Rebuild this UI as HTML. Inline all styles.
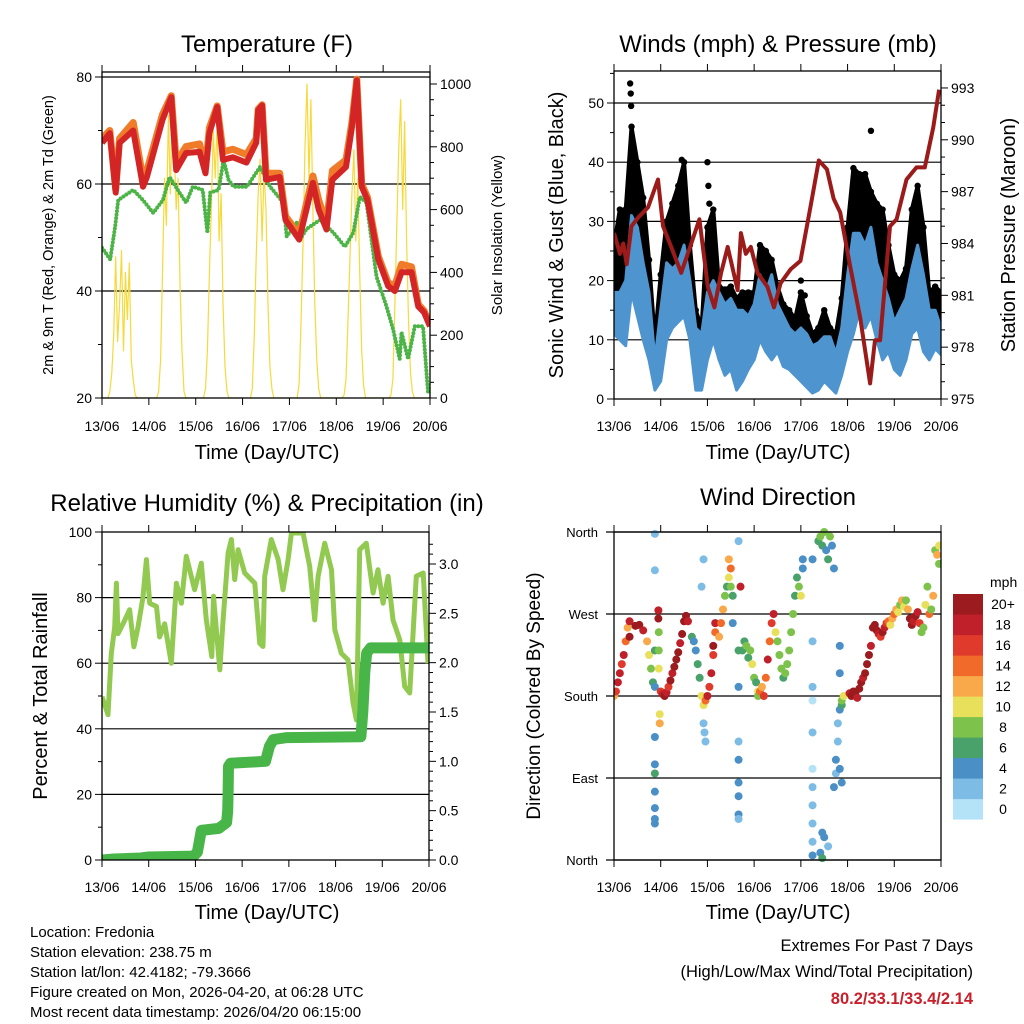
<!DOCTYPE html>
<html><head><meta charset="utf-8"><style>
html,body{margin:0;padding:0;background:#fff;}
svg{display:block;font-family:"Liberation Sans",Arial,sans-serif;}
</style></head><body>
<svg id="fig" width="1024" height="1024" viewBox="0 0 1024 1024">
<defs>
<clipPath id="c1"><rect x="102" y="72" width="328" height="326"/></clipPath>
<clipPath id="c2"><rect x="614" y="71" width="327" height="328"/></clipPath>
<clipPath id="c3"><rect x="102" y="532" width="327" height="328"/></clipPath>
<clipPath id="c4"><rect x="614" y="526" width="327" height="340"/></clipPath>
</defs>
<text x="267" y="52" font-size="24" text-anchor="middle">Temperature (F)</text>
<text x="778" y="52" font-size="24" text-anchor="middle">Winds (mph) &amp; Pressure (mb)</text>
<text x="267" y="511" font-size="24" text-anchor="middle">Relative Humidity (%) &amp; Precipitation (in)</text>
<text x="778" y="505" font-size="24" text-anchor="middle">Wind Direction</text>
<text transform="translate(53,235) rotate(-90)" font-size="14.5" text-anchor="middle">2m &amp; 9m T (Red, Orange) &amp; 2m Td (Green)</text>
<text transform="translate(502,235) rotate(-90)" font-size="15" text-anchor="middle">Solar Insolation (Yellow)</text>
<text transform="translate(563,235) rotate(-90)" font-size="20" text-anchor="middle">Sonic Wind &amp; Gust (Blue, Black)</text>
<text transform="translate(1015,235) rotate(-90)" font-size="20" text-anchor="middle">Station Pressure (Maroon)</text>
<text transform="translate(47,696) rotate(-90)" font-size="20" text-anchor="middle">Percent &amp; Total Rainfall</text>
<text transform="translate(540,696) rotate(-90)" font-size="19" text-anchor="middle">Direction (Colored By Speed)</text>
<text x="267" y="459" font-size="20" text-anchor="middle">Time (Day/UTC)</text>
<text x="778" y="459" font-size="20" text-anchor="middle">Time (Day/UTC)</text>
<text x="267" y="919" font-size="20" text-anchor="middle">Time (Day/UTC)</text>
<text x="778" y="919" font-size="20" text-anchor="middle">Time (Day/UTC)</text>
<g font-size="15">
<text x="30" y="937">Location: Fredonia</text>
<text x="30" y="957">Station elevation: 238.75 m</text>
<text x="30" y="977">Station lat/lon: 42.4182; -79.3666</text>
<text x="30" y="997">Figure created on Mon, 2026-04-20, at 06:28 UTC</text>
<text x="30" y="1017">Most recent data timestamp: 2026/04/20 06:15:00</text>
</g>
<text x="973" y="951" font-size="16.5" text-anchor="end">Extremes For Past 7 Days</text>
<text x="973" y="977" font-size="16.5" text-anchor="end">(High/Low/Max Wind/Total Precipitation)</text>
<text x="973" y="1004" font-size="16.5" font-weight="bold" fill="#c8202a" text-anchor="end">80.2/33.1/33.4/2.14</text>
</svg>
<script>
// ---------- DATA ----------
const dayLabels = ['13/06','14/06','15/06','16/06','17/06','18/06','19/06','20/06'];
const tempHours = [0,4,7,9,16,21,23,31,35.5,38,43,50,53,55,59,62,67,74,79,80,82,84,91,94,101,108,111,115,118,125,128,130.5,133,136,141.5,146.6,150,153.4,158.5,162,165,168];
const temp9m    = [67.7,69.5,58.4,67.7,70,59.5,61.3,72,76.2,62.6,65.8,66,62,69.5,74.4,64.5,65,64,67.7,73.8,74.7,60.8,61.3,53.3,49.6,60.2,55.2,51.5,60.8,63.2,70.6,79.4,59.5,57,45.9,40.9,40,43.5,43.5,37.1,36,33.4];
const temp2m    = [68.5,70,59,68.5,71.5,61,62.5,73,76.5,64,67,67.5,63,70.5,74.6,66,66.5,65.5,68.5,74,74.8,62,62,54,50.5,61.5,57,52.5,62.5,64.5,71.5,79.6,60,57.5,46.5,41.5,41,45,44.5,37.5,36.3,33.6];
const dewHours  = [0,4.2,6.7,8.3,16,21,26.2,31.2,34.6,39.7,43.1,46.5,51.6,54,55.4,59.7,62.3,64.8,67.4,74.2,81,86.1,92.9,94.6,99.7,101.4,104.8,111.7,118.5,124.4,128.7,132.1,135.5,140.6,145.7,149.1,152.5,153.4,156.8,160.2,164.4,167];
const dewVals   = [48.1,45.9,52,57,58.9,57,54.6,57,61.3,58.4,56.5,59.5,58.9,50.9,58.4,58.9,64.5,60.8,59.5,59.5,63.2,59.5,56.5,50.2,52.8,49.6,51.6,53.3,50.9,48.3,50.9,57.6,56.5,42.7,37.1,32.8,27.3,32.3,27.3,33.4,33.4,21.1];
const solarW = [0,0,0,0,20,80,200,450,180,300,470,150,400,250,430,120,60,10,0,0,0,0,0,0,
 0,0,0,0,0,20,120,400,700,550,900,650,950,800,600,700,350,150,20,0,0,0,0,0,
 0,0,0,0,0,30,150,400,600,850,700,890,500,650,300,100,20,0,0,0,0,0,0,0,
 0,0,0,0,0,30,200,450,650,760,500,720,600,300,100,30,0,0,0,0,0,0,0,0,
 0,0,0,0,0,50,250,500,800,1000,700,950,600,300,120,30,0,0,0,0,0,0,0,0,
 0,0,0,0,10,60,250,450,650,790,500,700,400,150,40,0,0,0,0,0,0,0,0,0,
 0,0,0,0,10,60,300,550,800,950,600,880,500,250,80,20,0,0,0,0,0,0,0,0,0];
const tempTicks = [20,40,60,80];
const solarTicks = [0,200,400,600,800,1000];

const presHours = [0,3.1,4.8,6.5,9,12.4,17.5,22.6,25.2,29.4,34.5,39.7,43.9,48.2,51.6,55,58.4,63.5,65.2,67.7,70.3,73.7,78.8,82.2,85.6,90.7,95.8,100.9,105.2,109.4,112.8,116.2,121.3,126.5,131.6,134.1,136.7,141.8,145.2,150.3,155.4,159.7,164,167];
const presVals  = [984.6,983.4,984,982.8,985,985.5,986.1,987.7,985,983.8,982.3,984,985.4,981.5,980.3,982.3,983.8,981.3,984.6,983.4,983.8,982.3,981.5,980.3,981.7,982.5,983,986.1,988.8,988.3,986.6,985.8,982.7,979.7,975.9,978.4,978.4,985,985.4,987.7,988.4,988.4,990.7,992.9];
const windLo = [11,10,9,18,14,10,6.6,1.5,3,10,12,13,14,10,1.5,1.5,6.6,10,6.6,4,5,1.5,3,5,6.6,10,8,6.6,8,5.5,5,4,3,2,1,1.5,3,2,1,4,8,11,15,12,14,10,6.6,8,5,4,6.6,11,12,8,6.6,8.5,7.5];
const windHi = [18,18,20,31,29,23,18,6.6,15,23,22,23,26,20,12,11,18,20,18,16,17,15,15,14,16,21,18,21,16,14,12,11,12,11,9,9.5,10.5,10.5,7.7,12,21,28,28,26,29,23,20,17,13,15,17,22,26,21,15,15,12];
const gustHi = [26,32,32,46,40,34,23.5,10,21,30,33,36,40,26,15,12,29,32,19,18.5,19,17,18,18,18,26,25,23.5,19,16,15,13.5,18,14,11,12,15,12,11,17,29,39,38,38,35,33,32,26,21,20,22,32,36,29,18,19,18];
const gustOutH = [8.3,8.6,8.8,34.8,48,48.5,49,96,98,132];
const gustOutV = [53.3,51.6,49.5,40.4,40,36,33,20,17.5,45.3];
const windTicks = [0,10,20,30,40,50];
const presTicks = [975,978,981,984,987,990,993];

const rhHours = [0,3.1,4.8,6.5,7.4,8.2,11.6,14.2,16.4,18.5,21,22.8,24.5,28,29.6,32.2,35.6,38.2,40.8,43.3,47.6,51,53.6,56.4,57.3,60.5,62.2,64.8,66.5,68.2,69.9,73.3,78.5,81,82.7,83.6,87,90.5,93,95.6,97.3,103.3,106.7,109.3,111,114.4,117.9,119.6,123,126.4,129,130.7,132.4,135.8,139.3,141.8,144.4,147,149.5,153,155.5,158.1,161.5,165,167.5];
const rhVals  = [49.8,44.3,63,71,84.4,69,73,76.3,65,71,80,91.6,78.3,77.3,68,72,60,84.4,78.3,92.6,82.4,90.5,73.2,62,80.4,58,73.2,93.6,97.7,85.5,94.6,87.5,84.4,66.1,65.1,86.5,97.7,91.6,82.4,91.6,99.7,99.7,89.5,73.2,86.5,96.6,88.5,70.2,63,61,47.8,42.7,94.6,96.6,81.4,88.5,78.3,86.5,73.2,67.1,52.9,50.9,86.5,87.5,60];
const rainHours = [0,6,20,24,47,49,51,60,64,64.6,64.8,65,66,84,86,88,95,133,134,135,136,138,168];
const rainVals  = [0,0.01,0.02,0.03,0.04,0.08,0.30,0.32,0.38,0.50,0.68,0.95,0.98,1.0,1.15,1.22,1.24,1.25,1.5,1.9,2.1,2.15,2.15];
const rhTicks = [0,20,40,60,80,100];
const rainTicks = [0,0.5,1.0,1.5,2.0,2.5,3.0];

const dirHours = [0,1,2,3,4,5,6,7,8,8,11,13,15,17,18,19,20,21,21,21,21,21,21,21,21,21,21,21,22.8,22.8,23,23,23,23.5,23.5,24,25,26,27,28,29,30,31,32,33,34,35,36,37,38,40,41,42,43,44,45,46,46,46.5,47,45,46,47,48,49,50,51,52,52,51,54,55,56,57,58,59,60,61,60,59,61,64,64,64,64,64,64,64,64,64,65,66,67,68,69,70,71,72,73,74,74,75,76,77,78,79,80,81,82,83,84,85,86,87,88,89,90,91,92,93,94,95,96,97,97,102,102,102,102,102,102,102,102,102,102,102,105,106,107,108,109,110,111,112,113,106,107,107,108,110,113,114,114,115,115,116,117,117,118,116,117,116,116,121,122,123,124,125,126,127,128,129,130,131,132,133,134,135,136,137,138,139,140,141,142,143,144,145,146,147,148,149,150,151,152,153,154,155,156,157,158,159,160,161,162,163,164,165,166,167,167];
const dirVals  = [180,185,195,205,215,225,240,255,262,245,257,258,252,240,225,210,195,358,318,230,190,135,105,95,75,57,40,45,274,265,250,230,210,160,150,185,182,180,184,190,197,205,212,220,228,238,248,262,268,262,245,240,230,215,200,180,170,150,140,130,300,330,175,180,190,205,225,250,260,235,245,260,275,290,300,310,300,290,320,330,260,350,230,190,130,110,85,70,50,45,300,230,240,235,222,230,215,200,195,185,180,185,190,180,200,220,240,260,270,250,240,225,210,200,205,215,230,250,270,290,310,300,290,320,330,330,240,190,175,140,100,80,60,40,20,5,350,355,345,360,340,330,355,345,320,8,2,30,25,15,80,95,110,130,150,165,170,175,180,100,85,235,205,183,180,185,182,178,188,195,200,205,215,225,235,255,258,252,248,245,250,255,260,262,258,265,270,275,272,280,285,278,285,275,265,258,262,268,272,260,250,255,280,300,270,275,290,340,335,345,325];
const dirSpeed = [12,16,18,18,16,18,14,12,18,20,20,20,18,12,10,8,6,2,2,6,4,4,4,6,4,4,4,4,18,20,8,8,10,10,12,16,18,20,18,16,20,18,20,20,20,18,20,20,20,18,6,4,4,6,6,10,10,2,2,2,2,2,14,18,16,18,16,14,18,20,12,14,12,8,6,10,8,6,14,12,4,2,6,4,2,4,4,4,4,2,18,6,6,8,6,8,10,8,6,10,8,14,12,16,14,18,14,16,18,10,8,8,8,6,8,8,8,8,8,6,6,8,10,4,4,4,2,2,0,2,0,2,2,2,2,4,6,8,6,8,4,6,8,4,4,4,6,4,4,2,4,2,4,2,2,4,6,8,10,4,4,4,4,18,20,20,20,18,20,20,18,20,20,20,18,20,20,20,18,16,20,18,16,14,10,12,14,12,10,8,12,10,8,12,20,20,18,20,18,16,8,8,10,8,14,8,12,8,12,10,8];
const dirTickLabels = ['North','East','South','West','North'];
const speedBins = ['0','2','4','6','8','10','12','14','16','18','20+'];
const binColors = ['#b4e2f7','#7dbce5','#4a8fc6','#48a26a','#7dc24a','#e8e05a','#f9a94a','#f26a2a','#e03a2c','#c0202a','#9b1b1e'];

// ---------- DRAWING ----------
const NS = 'http://www.w3.org/2000/svg';
const svg = document.getElementById('fig');
function mk(tag, attrs, parent){
  const e = document.createElementNS(NS, tag);
  for (const k in attrs) e.setAttribute(k, attrs[k]);
  (parent || svg).appendChild(e);
  return e;
}
function pts(xs, ys, fx, fy){ return xs.map((x,i)=>fx(x).toFixed(1)+','+fy(ys[i]).toFixed(1)).join(' '); }

function frame(x0,y0,x1,y1,name){
  const r = mk('rect',{x:x0,y:y0,width:x1-x0,height:y1-y0,fill:'none',stroke:'#000','stroke-width':1.3});
  
  
}
function xAxis(x0,x1,y0,y1,ly,fx,prefix){
  dayLabels.forEach((lab,i)=>{
    const x = fx(i*24);
    const t1 = mk('line',{x1:x,x2:x,y1:y1,y2:y1+7,stroke:'#000','stroke-width':1});
    
    
    const t2 = mk('line',{x1:x,x2:x,y1:y0,y2:y0-7,stroke:'#000','stroke-width':1});
    
    
    const tx = mk('text',{x:x,y:ly,'font-size':14,'text-anchor':'middle'});
    tx.textContent = lab;
    
    
  });
}
function gridLine(x0,x1,y,prefix){
  const g = mk('line',{x1:x0,x2:x1,y1:y,y2:y,stroke:'#000','stroke-width':1.2});
  
  
}
function yTick(x, y, dir, len, label, anchor, prefix){
  const t = mk('line',{x1:x,x2:x+dir*len,y1:y,y2:y,stroke:'#000','stroke-width':1});
  
  
  if (label !== null){
    const tx = mk('text',{x:x+dir*(len+3),y:y+5,'font-size':14,'text-anchor':anchor});
    tx.textContent = label;
    
    
  }
}

// ===== Panel 1: Temperature =====
{
  const X0=102,X1=430,Y0=72,Y1=398;
  const fx = h => X0 + h/168*(X1-X0);
  const fyT = v => Y1 - (v-20)*(321/60);
  const fyS = w => Y1 - w*0.314;
  tempTicks.forEach(v=>{ if(v>20) gridLine(X0,X1,fyT(v),'temperature'); yTick(X0,fyT(v),-1,7,String(v),'end','temperature-y'); });
  [30,50,70].forEach(v=>yTick(X0,fyT(v),-1,4,null,'end','temperature-y-minor'));
  solarTicks.forEach(v=>yTick(X1,fyS(v),1,7,String(v),'start','solar-y'));
  for(let w=50; w<1000; w+=50){ if(w%200) yTick(X1,fyS(w),1,4,null,'start','solar-y-minor'); }
  const g = mk('g',{'clip-path':'url(#c1)'});
  const sh = solarW.map((_,i)=>i);
  const s = mk('polyline',{points:pts(sh,solarW,fx,fyS),fill:'none',stroke:'#f6d93a','stroke-width':1.2,'stroke-linejoin':'round'},g);
  
  
  const d = mk('polyline',{points:pts(dewHours,dewVals,fx,fyT),fill:'none',stroke:'#4cb446','stroke-width':4,'stroke-dasharray':'0 3.5','stroke-linecap':'round','stroke-linejoin':'round'},g);
  
  
  const o = mk('polyline',{points:pts(tempHours,temp2m,fx,fyT),fill:'none',stroke:'#f07c2a','stroke-width':7,'stroke-linejoin':'round'},g);
  
  
  const r = mk('polyline',{points:pts(tempHours,temp9m,fx,fyT),fill:'none',stroke:'#d42526','stroke-width':6,'stroke-linejoin':'round'},g);
  
  
  frame(X0,Y0,X1,Y1,'temperature-plot-frame');
  xAxis(X0,X1,Y0,Y1,431,fx,'temperature');
}

// ===== Panel 2: Winds & Pressure =====
{
  const X0=614,X1=941,Y0=71,Y1=399;
  const fx = h => X0 + h/168*(X1-X0);
  const fyW = v => Y1 - v*5.92;
  const fyP = p => Y1 - (p-975)*17.28;
  windTicks.forEach(v=>{ if(v>0) gridLine(X0,X1,fyW(v),'winds'); yTick(X0,fyW(v),-1,7,String(v),'end','wind-y'); });
  [5,15,25,35,45,55].forEach(v=>yTick(X0,fyW(v),-1,4,null,'end','wind-y-minor'));
  presTicks.forEach(v=>yTick(X1,fyP(v),1,7,String(v),'start','pressure-y'));
  for(let p=976; p<994; p++){ if((p-975)%3) yTick(X1,fyP(p),1,4,null,'start','pressure-y-minor'); }
  const g = mk('g',{'clip-path':'url(#c2)'});
  const wh = windLo.map((_,i)=>i*3);
  const mid = windLo.map((v,i)=>(v+windHi[i])/2);
  const gp = pts(wh,gustHi,fx,fyW) + ' ' + pts(wh.slice().reverse(),mid.slice().reverse(),fx,fyW);
  const gb = mk('polygon',{points:gp,fill:'#000',stroke:'#000','stroke-width':4,'stroke-linejoin':'round'},g);
  
  
  gustHi.forEach((v,i)=>{
    const c = mk('circle',{cx:fx(wh[i]),cy:fyW(v),r:3.2,fill:'#000'},g);
    
    
  });
  gustOutH.forEach((h,i)=>{
    const c = mk('circle',{cx:fx(h),cy:fyW(gustOutV[i]),r:3.2,fill:'#000'},g);
    
    
  });
  const bp = pts(wh,windHi,fx,fyW) + ' ' + pts(wh.slice().reverse(),windLo.slice().reverse(),fx,fyW);
  const bb = mk('polygon',{points:bp,fill:'#4e94cf',stroke:'#4e94cf','stroke-width':3,'stroke-linejoin':'round'},g);
  
  
  const p = mk('polyline',{points:pts(presHours,presVals,fx,fyP),fill:'none',stroke:'#9b1b1b','stroke-width':4,'stroke-linejoin':'round'},g);
  
  
  frame(X0,Y0,X1,Y1,'winds-plot-frame');
  xAxis(X0,X1,Y0,Y1,431,fx,'winds');
}

// ===== Panel 3: RH & Precip =====
{
  const X0=102,X1=429,Y0=532,Y1=860;
  const fx = h => X0 + h/168*(X1-X0);
  const fyR = v => Y1 - v*3.28;
  const fyI = v => Y1 - v*98.67;
  rhTicks.forEach(v=>{ if(v>0&&v<100) gridLine(X0,X1,fyR(v),'humidity'); yTick(X0,fyR(v),-1,7,String(v),'end','humidity-y'); });
  [10,30,50,70,90].forEach(v=>yTick(X0,fyR(v),-1,4,null,'end','humidity-y-minor'));
  rainTicks.forEach(v=>yTick(X1,fyI(v),1,7,v.toFixed(1),'start','rain-y'));
  for(let i=1;i<33;i++){ if(i%5) yTick(X1,fyI(i/10),1,4,null,'start','rain-y-minor'); }
  const g = mk('g',{'clip-path':'url(#c3)'});
  const rh = mk('polyline',{points:pts(rhHours,rhVals,fx,fyR),fill:'none',stroke:'#92c950','stroke-width':5,'stroke-linejoin':'round'},g);
  
  
  const rn = mk('polyline',{points:pts(rainHours,rainVals,fx,fyI),fill:'none',stroke:'#48b548','stroke-width':11,'stroke-linejoin':'round','stroke-linecap':'round'},g);
  
  
  frame(X0,Y0,X1,Y1,'humidity-plot-frame');
  xAxis(X0,X1,Y0,Y1,892,fx,'humidity');
}

// ===== Panel 4: Wind direction =====
{
  const X0=614,X1=941,Y0=532,Y1=860;
  const fx = h => X0 + h/168*(X1-X0);
  const fyD = d => Y1 - d*(328/360);
  dirTickLabels.forEach((lab,i)=>{
    const y = fyD(i*90);
    gridLine(X0-8,X1,y,'direction');
    const tx = mk('text',{x:X0-16,y:y+5,'font-size':13,'text-anchor':'end'});
    tx.textContent = lab;
    
    
  });
  const g = mk('g',{'clip-path':'url(#c4)'});
  dirHours.forEach((h,i)=>{
    const bin = Math.min(10, Math.floor(dirSpeed[i]/2));
    const c = mk('circle',{cx:fx(h),cy:fyD(dirVals[i]),r:4,fill:binColors[bin]},g);
    
    
  });
  frame(X0,Y0,X1,Y1,'direction-plot-frame');
  xAxis(X0,X1,Y0,Y1,892,fx,'direction');
  // colorbar
  const mph = mk('text',{x:990,y:587,'font-size':14});
  mph.textContent = 'mph';
  
  
  speedBins.forEach((lab,i)=>{
    const y = 594 + (10-i)*20.5;
    const r = mk('rect',{x:953,y:y,width:30,height:20.6,fill:binColors[i]});
    
    
    const t = mk('text',{x:1003,y:y+15,'font-size':14,'text-anchor':'middle'});
    t.textContent = lab;
    
    
  });
}
</script>
</body></html>
